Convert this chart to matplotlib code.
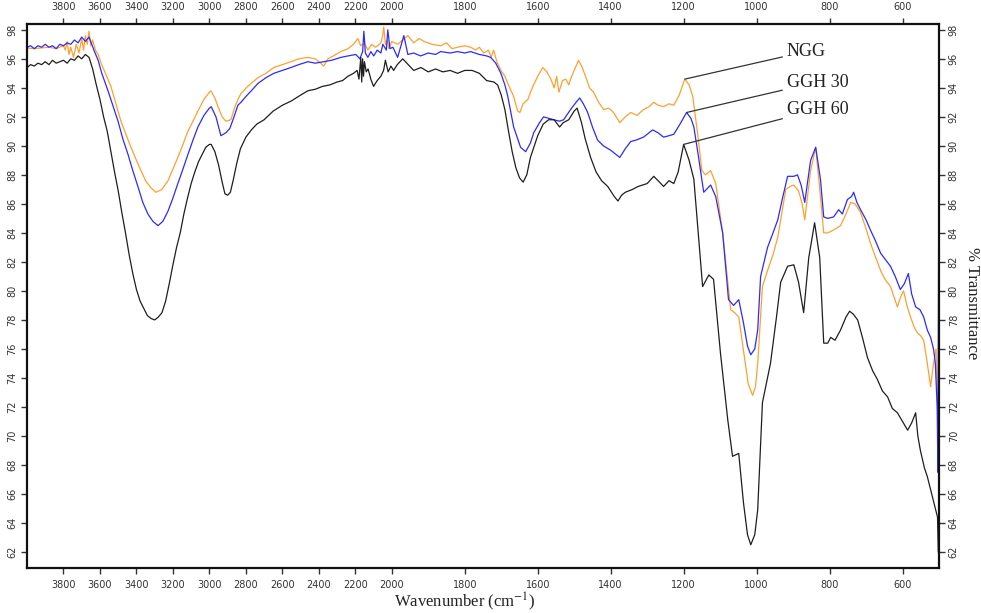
import numpy as np
import matplotlib
matplotlib.use("Agg")
import matplotlib.pyplot as plt

plt.rcParams['mathtext.fontset'] = 'stix'

# ---------------- data ----------------
wn_ggh60 = [4000,3980,3960,3940,3920,3900,3880,3860,3840,3820,3800,3780,3760,3740,3720,3700,3680,3660,3640,3620,3600,3580,3560,3540,3520,3500,3480,3460,3440,3420,3400,3380,3360,3340,3320,3300,3280,3260,3240,3220,3200,3180,3160,3140,3120,3100,3080,3060,3040,3020,3000,2990,2970,2950,2930,2915,2900,2885,2870,2850,2830,2800,2770,2740,2700,2650,2600,2550,2500,2460,2420,2380,2340,2300,2270,2240,2210,2190,2180,2170,2165,2160,2155,2150,2140,2130,2115,2100,2080,2060,2045,2035,2020,2005,1995,1985,1970,1955,1940,1920,1900,1880,1860,1840,1820,1800,1780,1760,1740,1720,1710,1700,1690,1680,1670,1660,1650,1640,1630,1620,1600,1585,1570,1555,1540,1530,1515,1500,1492,1480,1470,1455,1440,1425,1408,1390,1380,1370,1360,1340,1325,1300,1282,1270,1255,1240,1227,1215,1200,1185,1172,1159,1148,1131,1118,1099,1079,1066,1049,1036,1025,1016,1005,997,984,962,945,934,915,898,885,871,857,841,827,816,805,797,785,770,755,745,735,723,710,696,682,669,655,641,628,614,600,586,575,564,558,551,540,532,525,518,510,504,502,500]
t_ggh60 = [95.4,95.6,95.5,95.7,95.6,95.8,95.6,95.9,95.7,95.8,95.9,95.7,96.0,95.9,96.2,96.0,96.3,96.1,95.3,94.2,93.2,92.0,91.0,89.6,88.2,86.9,85.4,84.0,82.5,81.2,80.1,79.3,78.8,78.3,78.1,78.0,78.2,78.5,79.3,80.5,81.8,83.0,84.0,85.3,86.4,87.4,88.2,88.9,89.4,89.9,90.1,90.1,89.6,88.7,87.5,86.7,86.6,86.8,87.6,88.8,89.8,90.6,91.1,91.5,91.8,92.4,92.8,93.1,93.5,93.8,93.9,94.1,94.2,94.4,94.5,94.8,95.0,95.2,94.6,96.1,94.4,96.0,94.8,95.8,95.1,95.3,94.6,94.1,94.5,94.8,95.2,95.9,95.1,95.5,95.2,95.6,96.0,95.6,95.2,95.4,95.1,95.3,95.1,95.2,95.0,95.2,95.2,95.0,94.5,94.4,94.2,93.5,92.5,91.0,89.6,88.5,87.8,87.5,88.0,89.2,90.7,91.5,91.8,91.8,91.3,91.6,91.8,92.4,92.6,91.6,90.5,89.2,88.2,87.6,87.2,86.5,86.2,86.6,86.8,87.0,87.2,87.4,87.9,87.6,87.2,87.6,87.4,88.2,90.1,89.0,87.7,83.7,80.3,81.1,80.8,75.7,71.1,68.6,68.8,65.4,63.2,62.5,63.2,64.9,72.3,75.0,78.3,80.6,81.7,81.8,80.6,78.5,82.3,84.7,82.3,76.4,76.4,76.8,76.6,77.3,78.2,78.6,78.4,78.0,76.8,75.4,74.5,73.9,73.1,72.7,71.9,71.6,71.0,70.4,70.9,71.6,70.0,69.0,67.8,67.2,66.5,65.8,65.0,64.4,62.0,64.0]

wn_ggh30 = [4000,3980,3960,3940,3920,3900,3880,3860,3840,3820,3800,3780,3760,3740,3720,3700,3680,3660,3645,3630,3610,3590,3570,3556,3530,3501,3475,3446,3420,3392,3365,3337,3310,3282,3255,3227,3200,3173,3145,3118,3090,3063,3030,3000,2990,2964,2937,2910,2888,2865,2844,2827,2800,2770,2734,2690,2647,2600,2553,2510,2460,2420,2373,2330,2279,2240,2197,2175,2160,2153,2145,2131,2115,2099,2080,2060,2049,2030,2022,2010,1997,1984,1967,1956,1940,1921,1900,1880,1866,1840,1820,1800,1784,1760,1740,1729,1715,1701,1690,1682,1666,1647,1633,1620,1611,1595,1584,1570,1556,1540,1529,1510,1495,1485,1475,1463,1450,1436,1420,1400,1385,1375,1360,1345,1330,1310,1295,1285,1270,1255,1240,1227,1210,1192,1180,1172,1159,1145,1126,1112,1093,1077,1063,1049,1036,1025,1016,1005,997,989,970,955,942,928,915,898,888,878,868,852,838,825,816,805,789,775,765,751,740,734,725,715,700,688,675,660,648,633,620,606,595,584,575,564,552,542,532,523,515,510,505,503,501,500]
t_ggh30 = [96.8,96.9,96.7,96.9,96.8,97.0,96.8,96.9,96.7,97.0,96.9,97.1,97.0,97.3,97.1,97.5,97.2,97.5,97.0,96.5,95.9,95.0,94.3,93.8,92.8,91.7,90.5,89.4,88.3,87.2,86.1,85.3,84.8,84.5,84.8,85.5,86.4,87.4,88.4,89.4,90.4,91.3,92.1,92.6,92.7,92.0,90.7,90.9,91.2,92.0,92.8,93.0,93.4,93.8,94.3,94.7,95.0,95.2,95.4,95.6,95.8,95.7,95.8,95.9,96.1,96.2,96.3,96.0,96.5,97.9,96.4,96.1,96.5,96.2,96.6,96.4,97.0,96.6,98.0,96.7,96.8,96.1,97.6,96.3,96.4,96.2,96.4,96.3,96.5,96.4,96.5,96.4,96.5,96.3,96.2,96.1,95.7,95.0,94.2,93.4,91.3,89.9,89.6,90.2,90.9,91.6,92.0,91.9,91.8,91.7,91.8,92.5,93.0,93.3,92.9,92.3,91.3,90.4,90.0,89.7,89.4,89.2,89.8,90.3,90.4,90.6,90.9,91.1,90.9,90.6,90.7,90.8,91.5,92.3,91.9,91.3,89.2,86.8,87.3,86.5,84.0,79.4,79.0,79.4,77.8,76.2,75.6,76.0,77.3,81.0,83.0,84.0,84.9,86.5,87.9,87.9,88.0,87.3,86.1,89.0,89.9,87.7,85.1,85.0,85.1,85.6,85.3,86.3,86.5,86.8,86.1,85.6,84.9,84.2,83.5,82.6,82.2,81.7,81.0,80.1,80.5,81.2,79.8,78.9,78.7,78.2,77.3,76.8,76.0,75.0,72.0,67.5,83.3,78.0]

wn_ngg = [4000,3960,3920,3880,3840,3800,3790,3780,3770,3760,3745,3730,3715,3700,3690,3680,3670,3660,3650,3640,3625,3610,3594,3570,3540,3515,3485,3458,3430,3400,3375,3350,3320,3293,3260,3227,3200,3173,3145,3118,3090,3063,3030,3000,2992,2970,2953,2930,2910,2882,2860,2840,2827,2790,2734,2690,2647,2600,2553,2510,2460,2420,2390,2373,2350,2320,2279,2240,2210,2186,2170,2150,2131,2110,2090,2077,2060,2050,2044,2035,2025,2016,2000,1984,1970,1956,1940,1925,1912,1890,1866,1850,1835,1819,1800,1784,1770,1760,1748,1735,1728,1721,1712,1701,1690,1682,1666,1655,1649,1640,1627,1615,1600,1586,1575,1564,1555,1548,1542,1532,1523,1515,1510,1500,1488,1478,1469,1458,1447,1433,1419,1405,1392,1375,1360,1345,1328,1310,1295,1282,1270,1255,1240,1227,1212,1197,1185,1175,1162,1150,1140,1126,1112,1093,1071,1060,1049,1036,1023,1011,1003,997,984,970,955,942,930,920,908,898,885,875,868,852,838,825,816,805,789,770,755,742,730,715,700,688,675,660,648,633,622,614,605,597,588,578,568,559,550,542,532,523,515,508,504,501,500]
t_ngg = [96.75,96.7,96.75,96.8,96.7,96.9,96.6,97.2,96.3,96.8,96.1,97.0,96.4,97.4,96.6,97.6,97.0,97.9,96.9,97.3,96.6,96.3,95.7,95.0,94.1,93.0,91.7,90.8,89.9,89.0,88.3,87.6,87.1,86.8,87.0,87.6,88.4,89.2,90.1,91.0,91.7,92.4,93.2,93.7,93.8,93.3,92.7,92.0,91.7,91.8,92.7,93.3,93.6,94.1,94.7,95.0,95.4,95.6,95.8,96.0,96.1,96.0,95.7,95.5,96.0,96.2,96.5,96.7,97.0,97.4,96.9,97.1,96.6,97.0,96.8,96.9,97.1,97.6,98.2,97.0,97.3,96.7,97.2,97.0,97.3,97.6,97.1,97.4,97.2,97.0,96.9,97.1,96.7,96.8,96.9,96.8,96.6,96.8,96.4,96.6,96.1,96.6,95.8,95.2,94.8,94.3,93.4,92.4,92.3,92.9,93.2,94.0,94.8,95.4,95.1,94.6,94.0,94.8,93.7,94.5,94.6,94.2,94.6,95.2,95.9,95.4,94.8,94.0,93.7,93.0,92.5,92.6,92.3,91.6,92.0,92.3,92.1,92.5,92.7,93.0,92.8,92.7,92.9,92.8,93.5,94.6,94.2,93.4,90.9,88.3,88.0,88.3,87.4,84.0,78.7,78.5,78.2,75.9,73.6,72.8,73.4,75.0,80.3,81.4,82.5,83.7,85.5,87.0,87.2,87.3,86.9,86.0,84.9,88.3,89.9,86.5,84.0,84.0,84.2,84.5,85.3,86.1,86.0,85.4,84.3,83.3,82.4,81.4,80.8,80.3,79.5,78.9,79.6,80.0,79.0,78.2,77.5,77.1,76.9,76.6,75.0,73.4,75.0,76.0,72.0,68.0,63.0]

series_labels = ["NGG", "GGH 30", "GGH 60"]
peak_wn = [1197, 1192, 1200]
peak_t = [94.6, 92.3, 90.1]
label_t = [96.5, 94.4, 92.5]
label_wn = 918

x_ticks = [3800, 3600, 3400, 3200, 3000, 2800, 2600, 2400, 2200, 2000,
           1800, 1600, 1400, 1200, 1000, 800, 600]
y_ticks = list(range(62, 100, 2))

# ---------------- figure ----------------
def fwd(x):
    x = np.asarray(x, dtype=float)
    return np.where(x > 2000, 2000 + (x - 2000) / 2.0, x)

def inv(y):
    y = np.asarray(y, dtype=float)
    return np.where(y > 2000, 2000 + (y - 2000) * 2.0, y)

fig = plt.figure(figsize=(9.81, 6.13), dpi=100)
ax = fig.add_axes([27/981, 1-568/613, (939-27)/981, (568-24)/613])
ax.set_xscale('function', functions=(fwd, inv))

c_ngg = "#FFA030"
c_30 = "#2B2BFF"
c_60 = "#1E1E1E"
ax.plot(wn_ngg, t_ngg, color=c_ngg, lw=0.9)
ax.plot(wn_ggh30, t_ggh30, color=c_30, lw=0.9)
ax.plot(wn_ggh60, t_ggh60, color=c_60, lw=0.9)

ax.set_xlim(4000, 500)
ax.set_ylim(60.9, 98.4)

ax.set_xticks(x_ticks)
ax.set_xticklabels([str(v) for v in x_ticks])
ax.set_yticks(y_ticks)
ax.set_yticklabels([str(v) for v in y_ticks])
ax.xaxis.set_minor_locator(matplotlib.ticker.NullLocator())

ax.tick_params(axis='x', which='both', top=True, labeltop=True, bottom=True,
               labelbottom=True, direction='out', length=4, width=1,
               labelsize=7, colors='#333333', pad=5)
ax.tick_params(axis='y', which='both', left=True, right=True, labelleft=True,
               labelright=True, direction='out', length=4, width=1,
               labelsize=7, colors='#333333', pad=3)
for t in ax.yaxis.get_major_ticks():
    t.label2.set_rotation(90)
    t.label2.set_va('center')
    t.label1.set_rotation(90)
    t.label1.set_va('center')

for sp in ax.spines.values():
    sp.set_linewidth(1.6)
    sp.set_color('#111111')

for lab, pw, pt, lt in zip(series_labels, peak_wn, peak_t, label_t):
    ax.annotate(lab, xy=(pw, pt), xytext=(label_wn, lt),
                textcoords='data', ha='left', va='center',
                fontsize=13, family='Liberation Serif', color='#222222',
                arrowprops=dict(arrowstyle='-', color='#333333', lw=0.9,
                                shrinkA=1, shrinkB=0))

fig.text(465/981, 1-602/613, "Wavenumber (cm$^{-1}$)", ha='center', va='center',
         fontsize=12, family='Liberation Serif', color='#222222')
fig.text(972/981, 1-303/613, "% Transmittance", ha='center', va='center',
         rotation=-90, fontsize=12, family='Liberation Serif', color='#222222')

fig.savefig("out.png", dpi=100)
